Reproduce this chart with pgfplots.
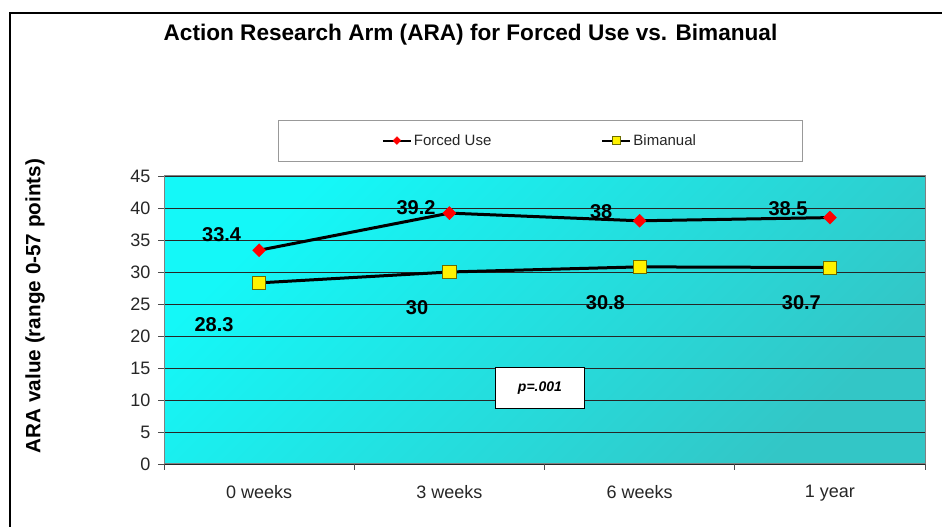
\documentclass[border=0pt]{standalone}
\usepackage{pgfplots}
\pgfplotsset{compat=1.18}
\usepackage{fontspec}
\setmainfont{Liberation Sans}
\definecolor{bgA}{HTML}{14F8F8}
\definecolor{bgB}{HTML}{33C6C6}
\definecolor{sqborder}{HTML}{6B6B00}
\tikzset{lab/.style={font=\fontsize{20}{24}\selectfont\bfseries}}
\begin{document}
\begin{tikzpicture}[x=1pt,y=1pt]
\useasboundingbox (0,0) rectangle (942,527);
\node[anchor=base, font=\fontsize{22.6}{26}\selectfont\bfseries] at (470.5,486) {Action Research Arm (ARA) for Forced Use vs. Bimanual};
\node[rotate=90, font=\fontsize{20.7}{24}\selectfont\bfseries] at (35,221) {ARA value (range 0-57 points)};
\begin{axis}[
  at={(164pt,63pt)}, anchor=south west,
  width=761pt, height=288pt, scale only axis,
  xmin=-0.5, xmax=3.5, ymin=0, ymax=45,
  xtick={-0.5,0.5,1.5,2.5,3.5},
  xticklabels={0 weeks,3 weeks,6 weeks,1 year},
  x tick label as interval,
  ytick={0,5,...,45},
  tick align=outside, tick pos=left,
  major tick length=6pt,
  tick style={draw=black!70, line width=0.8pt},
  ymajorgrids, grid style={draw=black!85, line width=0.8pt},
  axis line style={draw=gray, line width=1pt},
  axis background/.style={shade, top color=bgA, bottom color=bgB, shading angle=45},
  tick label style={font=\fontsize{18}{21}\selectfont, text=black!85},
  xticklabel style={yshift=-12pt},
  yticklabel style={xshift=-4pt},
  /pgf/number format/assume math mode=true,
  legend columns=2,
  legend style={at={(0.494,1.123)}, anchor=center, draw=none, fill=none,
    font=\fontsize{15}{18}\selectfont, text=black!85,
    /tikz/every even column/.append style={column sep=108pt}},
  legend image code/.code={\draw[mark repeat=2,mark phase=2,#1] plot coordinates {(0pt,0pt)(14pt,0pt)(28pt,0pt)};},
  clip=false,
]
\draw[draw=gray!80, line width=0.8pt, fill=white] (rel axis cs:0.1498,1.052) rectangle (rel axis cs:0.8384,1.194);
\addplot[black, line width=3pt, mark=square*, mark size=4.6pt, mark options={solid, rotate=45, fill=red, draw=red, line width=0.4pt}, forget plot] coordinates {(0,33.4)(1,39.2)(2,38)(3,38.5)};
\addplot[black, line width=3pt, mark=square*, mark size=6.6pt, mark options={solid, fill=yellow, draw=sqborder, line width=0.8pt}, forget plot] coordinates {(0,28.3)(1,30)(2,30.8)(3,30.7)};
\addlegendimage{black, line width=2pt, mark=square*, mark size=2.8pt, mark options={solid, rotate=45, fill=red, draw=red, line width=0.3pt}}
\addlegendentry{Forced Use}
\addlegendimage{black, line width=2pt, mark=square*, mark size=3.8pt, mark options={solid, fill=yellow, draw=sqborder, line width=0.6pt}}
\addlegendentry{Bimanual}
\node[lab] at (axis cs:-0.197,35.8) {33.4};
\node[lab] at (axis cs:0.825,40.1) {39.2};
\node[lab] at (axis cs:1.798,39.4) {38};
\node[lab] at (axis cs:2.78,39.85) {38.5};
\node[lab] at (axis cs:-0.237,21.7) {28.3};
\node[lab] at (axis cs:0.83,24.4) {30};
\node[lab] at (axis cs:1.82,25.2) {30.8};
\node[lab] at (axis cs:2.85,25.2) {30.7};
\node[draw=black, fill=white, line width=1pt, minimum width=89pt, minimum height=41pt, font=\fontsize{14}{16}\selectfont\bfseries\itshape] at (axis cs:1.476,11.9) {p=.001};
\end{axis}
\draw[line width=2.2pt] (10,-10) -- (10,514) -- (960,514);
\end{tikzpicture}
\end{document}
